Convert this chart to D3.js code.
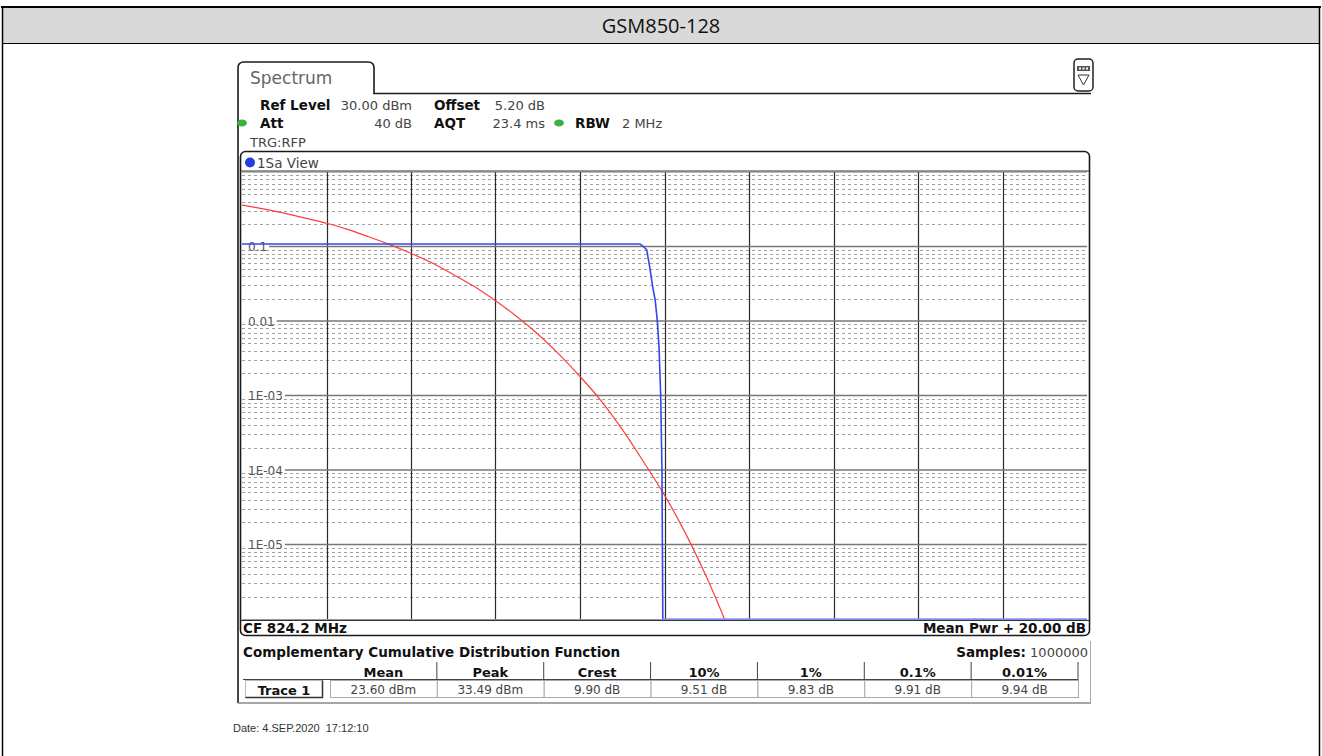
<!DOCTYPE html>
<meta charset="utf-8">
<style>
body{margin:0;background:#fff;}
svg{display:block;}
text{font-family:"DejaVu Sans",Verdana,sans-serif;font-size:13px;fill:#444;}
.b{font-weight:bold;fill:#111;font-size:13.5px;}
.minor{stroke:#a0a0a0;stroke-dasharray:3,3;stroke-width:1;fill:none;}
.major{stroke:#777;stroke-width:1.6;}
.vgrid{stroke:#2a2a2a;stroke-width:1.2;}
.frame{fill:none;stroke:#1a1a1a;stroke-width:1.6;}
</style>
<body>
<script src="https://cdn.jsdelivr.net/npm/d3@7"></script>
<script>
// y axis decades (probability) and their labels
var yTicks = [0.1, 0.01, 1e-3, 1e-4, 1e-5];
var yTickLabels = ["0.1", "0.01", "1E-03", "1E-04", "1E-05"];
// x axis: dB above mean power, 2 dB per division
var xTicks = [0, 2, 4, 6, 8, 10, 12, 14, 16, 18, 20];

// red trace (reference curve)
var redDb   = [0, 0.5, 1, 1.5, 2, 2.5, 3, 3.5, 4, 4.5, 5, 5.5, 6, 6.5, 7, 7.5, 8, 8.5, 9, 9.5, 10, 10.5, 11, 11.42];
var redProb = [0.36, 0.32, 0.28, 0.24, 0.205, 0.17, 0.135, 0.106, 0.081, 0.06, 0.042, 0.029, 0.0187, 0.0115, 0.0067, 0.0036, 0.0018, 0.00085, 0.00035, 0.00013, 0.000046, 0.000014, 0.0000036, 0.000001];

// blue trace (measured, Trace 1)
var blueDb   = [0, 9.42, 9.5, 9.58, 9.65, 9.72, 9.78, 9.83, 9.87, 9.91, 9.94, 9.96];
var blueProb = [0.108, 0.108, 0.1, 0.09, 0.053, 0.029, 0.019, 0.01, 0.0045, 0.001, 0.0001, 0.000001];

// statistics table
var statNames  = ["Mean", "Peak", "Crest", "10%", "1%", "0.1%", "0.01%"];
var statValues = ["23.60 dBm", "33.49 dBm", "9.90 dB", "9.51 dB", "9.83 dB", "9.91 dB", "9.94 dB"];

var W = 1322, H = 756;
var svg = d3.select("body").append("svg").attr("width", W).attr("height", H);

// ---- outer table cell with grey header ----
svg.append("rect").attr("x", 2).attr("y", 7).attr("width", 1317).attr("height", 36).attr("fill", "#d9d9d9");
svg.append("line").attr("x1", 1).attr("x2", 1321).attr("y1", 7).attr("y2", 7).attr("stroke", "#000").attr("stroke-width", 2);
svg.append("line").attr("x1", 2).attr("x2", 1320).attr("y1", 43.5).attr("y2", 43.5).attr("stroke", "#000").attr("stroke-width", 1);
svg.append("line").attr("x1", 2.5).attr("x2", 2.5).attr("y1", 7).attr("y2", H).attr("stroke", "#000").attr("stroke-width", 1.5);
svg.append("line").attr("x1", 1319.5).attr("x2", 1319.5).attr("y1", 7).attr("y2", H).attr("stroke", "#000").attr("stroke-width", 1.5);
svg.append("text").attr("x", 661).attr("y", 33).attr("text-anchor", "middle")
  .style("font-family", "'Open Sans',sans-serif").style("font-size", "20px").style("fill", "#111")
  .text("GSM850-128");

// ---- instrument screenshot frame ----
svg.append("path").attr("class", "frame")
  .attr("d", "M238,703 L238,68 Q238,62 244,62 L368,62 Q374,62 374,68 L374,93.5 L1091,93.5");
svg.append("line").attr("x1", 238).attr("x2", 1091).attr("y1", 703).attr("y2", 703).attr("stroke", "#888").attr("stroke-width", 1.5);
svg.append("line").attr("x1", 1090.5).attr("x2", 1090.5).attr("y1", 641).attr("y2", 703).attr("stroke", "#aaa");
svg.append("text").attr("x", 250).attr("y", 84).style("font-size", "17px").style("fill", "#666").text("Spectrum");

// icon top right
var ic = svg.append("g");
ic.append("rect").attr("x", 1074).attr("y", 59).attr("width", 19).attr("height", 32).attr("rx", 4)
  .attr("fill", "#fff").attr("stroke", "#222").attr("stroke-width", 1.5);
ic.append("rect").attr("x", 1077).attr("y", 66).attr("width", 13).attr("height", 5).attr("fill", "#555");
[1079, 1082.5, 1086].forEach(function(x){
  ic.append("rect").attr("x", x).attr("y", 67.5).attr("width", 2).attr("height", 2).attr("fill", "#fff");
});
ic.append("path").attr("d", "M1078,75 L1089,75 L1083.5,85 Z").attr("fill", "none").attr("stroke", "#333").attr("stroke-width", 1);

// settings text
function info(x, y, t, cls, anchor){
  return svg.append("text").attr("x", x).attr("y", y).attr("class", cls || null)
    .attr("text-anchor", anchor || "start").text(t);
}
info(260, 110, "Ref Level", "b"); info(412, 110, "30.00 dBm", null, "end");
info(434, 110, "Offset", "b"); info(545, 110, "5.20 dB", null, "end");
info(260, 128, "Att", "b"); info(412, 128, "40 dB", null, "end");
info(434, 128, "AQT", "b"); info(545, 128, "23.4 ms", null, "end");
info(575, 128, "RBW", "b"); info(622, 128, "2 MHz");
info(250, 147, "TRG:RFP");
[[242, 123], [559, 123]].forEach(function(p){
  svg.append("ellipse").attr("cx", p[0]).attr("cy", p[1]).attr("rx", 5).attr("ry", 3.5).attr("fill", "#3cb043");
});

// ---- diagram panel ----
svg.append("rect").attr("x", 240.5).attr("y", 151.5).attr("width", 849).attr("height", 484).attr("rx", 5)
  .attr("fill", "#fff").attr("stroke", "#1a1a1a").attr("stroke-width", 1.6);
svg.append("line").attr("x1", 241).attr("x2", 1089).attr("y1", 171).attr("y2", 171).attr("stroke", "#333");
svg.append("circle").attr("cx", 250).attr("cy", 162.5).attr("r", 5).attr("fill", "#1f3fe0");
svg.append("text").attr("x", 257).attr("y", 167.5).style("font-size", "13.5px").style("fill", "#444").text("1Sa View");

var x = d3.scaleLinear().domain([0, 20]).range([242, 1087]);
var y = d3.scaleLog().domain([1, 1e-6]).range([172, 619]);

var grid = svg.append("g");
// minor dashed lines, 2..9 per decade
var minors = [];
for (var e = 0; e > -6; e--) {
  for (var m = 2; m <= 9; m++) minors.push(m * Math.pow(10, e - 1));
}
grid.selectAll(".minor").data(minors).enter().append("line").attr("class", "minor")
  .attr("x1", x(0)).attr("x2", x(20))
  .attr("y1", function(d){ return Math.round(y(d)) + 0.5; })
  .attr("y2", function(d){ return Math.round(y(d)) + 0.5; });

// vertical division lines
grid.selectAll(".vgrid").data(xTicks.slice(1, -1)).enter().append("line").attr("class", "vgrid")
  .attr("x1", function(d){ return Math.round(x(d)) + 0.5; })
  .attr("x2", function(d){ return Math.round(x(d)) + 0.5; })
  .attr("y1", y(1)).attr("y2", y(1e-6));

// decade lines with labels
var dec = grid.selectAll(".dec").data(yTicks).enter().append("g");
dec.append("text").attr("x", x(0) + 6).attr("y", function(d){ return y(d) + 4.5; })
  .style("font-size", "12px").style("fill", "#555")
  .text(function(d, i){ return yTickLabels[i]; })
  .each(function(d){
    var bb = this.getBBox();
    d3.select(this.parentNode).append("line").attr("class", "major")
      .attr("x1", bb.x + bb.width + 2).attr("x2", x(20))
      .attr("y1", y(d)).attr("y2", y(d));
  });
grid.append("line").attr("class", "major").attr("x1", x(0)).attr("x2", x(20))
  .attr("y1", y(1e-6) + 1).attr("y2", y(1e-6) + 1);
grid.append("line").attr("x1", x(0)).attr("x2", x(20)).attr("y1", y(1)).attr("y2", y(1)).attr("stroke", "#777");

// traces
var line = d3.line().x(function(d){ return x(d[0]); }).y(function(d){ return y(d[1]); });
svg.append("path").attr("fill", "none").attr("stroke", "#ff3b3b").attr("stroke-width", 1.2)
  .attr("d", line.curve(d3.curveCatmullRom)(d3.zip(redDb, redProb)));
svg.append("path").attr("fill", "none").attr("stroke", "#3048f0").attr("stroke-width", 1.6)
  .attr("d", d3.line().x(function(d){ return x(d[0]); }).y(function(d){ return y(d[1]); })(d3.zip(blueDb, blueProb)));
svg.append("line").attr("x1", x(blueDb[blueDb.length - 1])).attr("x2", x(20))
  .attr("y1", y(1e-6)).attr("y2", y(1e-6)).attr("stroke", "#7f8cff").attr("stroke-width", 1.6);

// panel footer
svg.append("line").attr("x1", 241).attr("x2", 1089).attr("y1", 620.5).attr("y2", 620.5).attr("stroke", "#333");
info(243, 633, "CF 824.2 MHz", "b");
info(1086, 633, "Mean Pwr + " + xTicks[xTicks.length - 1].toFixed(2) + " dB", "b", "end");

// ---- statistics table ----
info(243, 657, "Complementary Cumulative Distribution Function", "b");
svg.append("text").attr("x", 1088).attr("y", 657).attr("text-anchor", "end")
  .html('<tspan style="font-weight:bold;fill:#111;font-size:13.5px">Samples:</tspan> 1000000');

var col = d3.scaleBand().domain(statNames).range([330, 1078]);
svg.append("line").attr("x1", 243).attr("x2", 1078).attr("y1", 679.5).attr("y2", 679.5).attr("stroke", "#444");
svg.selectAll(".hsep").data(statNames).enter().append("line")
  .attr("x1", function(d){ return col(d) + col.bandwidth(); })
  .attr("x2", function(d){ return col(d) + col.bandwidth(); })
  .attr("y1", 662).attr("y2", 680).attr("stroke", "#444");
svg.selectAll(".hd").data(statNames).enter().append("text").attr("class", "b")
  .attr("x", function(d){ return col(d) + col.bandwidth() / 2; }).attr("y", 677)
  .attr("text-anchor", "middle").style("font-size", "13px").text(function(d){ return d; });
svg.selectAll(".vc").data(statValues).enter().append("rect")
  .attr("x", function(d, i){ return col(statNames[i]) + 0.5; }).attr("y", 680.5)
  .attr("width", col.bandwidth()).attr("height", 17).attr("fill", "#fff").attr("stroke", "#aaa");
svg.selectAll(".vl").data(statValues).enter().append("text")
  .attr("x", function(d, i){ return col(statNames[i]) + col.bandwidth() / 2; }).attr("y", 694)
  .attr("text-anchor", "middle").style("font-size", "12px").text(function(d){ return d; });
// trace button (raised)
svg.append("rect").attr("x", 245.5).attr("y", 680.5).attr("width", 77).attr("height", 17).attr("fill", "#fff")
  .attr("stroke", "#bbb");
svg.append("path").attr("d", "M245.5,697.5 L322.5,697.5 L322.5,680.5").attr("fill", "none").attr("stroke", "#333").attr("stroke-width", 1.5);
svg.append("text").attr("class", "b").attr("x", 284).attr("y", 694.5).attr("text-anchor", "middle")
  .style("font-size", "13px").text("Trace 1");

// date line under screenshot
svg.append("text").attr("x", 233).attr("y", 732)
  .style("font-family", "'Liberation Sans',Arial,sans-serif").style("font-size", "11px").style("fill", "#333")
  .attr("xml:space", "preserve").text("Date: 4.SEP.2020  17:12:10");
</script>
</body>
